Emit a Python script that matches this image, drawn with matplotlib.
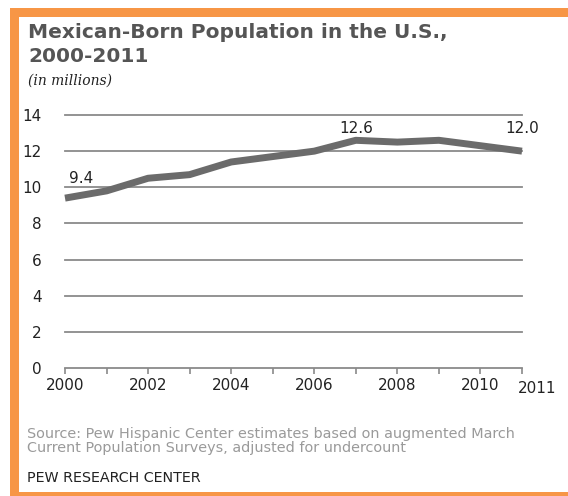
import matplotlib.pyplot as plt
from matplotlib.patches import Rectangle

# Mexican-born population in the U.S., millions
years = [2000, 2001, 2002, 2003, 2004, 2005, 2006, 2007, 2008, 2009, 2010, 2011]
population = [9.4, 9.8, 10.5, 10.7, 11.4, 11.7, 12.0, 12.6, 12.5, 12.6, 12.3, 12.0]
y_ticks = [0, 2, 4, 6, 8, 10, 12, 14]
x_labels = [2000, 2002, 2004, 2006, 2008, 2010]

W, H = 568, 496
fig = plt.figure(figsize=(W / 100, H / 100), dpi=100)
fig.patch.set_facecolor('white')

ORANGE = '#f79646'
LINE = '#6b6b6b'
GRID = '#8a8a8a'
DARK = '#222222'


def fy(px):
    # pixel row from the top -> figure fraction
    return 1 - px / H


# orange frame: top, left and bottom strips
for (x0, y0, w, h) in [(10, 8, 558, 9), (10, 8, 9, 488), (10, 492, 558, 4)]:
    fig.add_artist(Rectangle((x0 / W, fy(y0 + h)), w / W, h / H,
                             transform=fig.transFigure, facecolor=ORANGE,
                             edgecolor='none'))

ax = fig.add_axes([65 / W, fy(368), 457 / W, 253 / H])
ax.set_xlim(2000, 2011)
ax.set_ylim(0, 14)
for s in ax.spines.values():
    s.set_visible(False)

for v in y_ticks:
    ax.axhline(v, color=GRID, lw=1.3, zorder=1, clip_on=False)

ax.plot(years, population, color=LINE, lw=5, solid_capstyle='butt',
        solid_joinstyle='round', zorder=3, clip_on=False)

ax.set_yticks(y_ticks)
ax.set_yticklabels([str(v) for v in y_ticks], fontsize=11, color=DARK)
ax.tick_params(axis='y', length=0, pad=17)

ax.set_xticks(years)
ax.set_xticklabels([str(y) if y in x_labels else '' for y in years],
                   fontsize=11, color=DARK)
ax.tick_params(axis='x', length=4, width=1.2, color=GRID, pad=3)
ax.text(2011.37, -0.7, '2011', fontsize=11, color=DARK,
        ha='center', va='top')

# value labels on first, peak and last points
label_spots = {2000: (0.39, 0.83), 2007: (0.0, 0.39), 2011: (0.0, 1.0)}
for yr, (dx, dy) in label_spots.items():
    val = population[years.index(yr)]
    ax.text(yr + dx, val + dy, f'{val:.1f}', fontsize=11, color=DARK,
            ha='center', va='baseline')

fig.text(28 / W, fy(38), 'Mexican-Born Population in the U.S.,',
         fontsize=14.5, fontweight='bold', color='#555555', ha='left',
         va='baseline')
fig.text(28 / W, fy(62), '2000-2011',
         fontsize=14.5, fontweight='bold', color='#555555', ha='left',
         va='baseline')
fig.text(28 / W, fy(85), '(in millions)', fontsize=10, style='italic',
         family='DejaVu Serif', color=DARK, ha='left', va='baseline')

fig.text(27 / W, fy(438),
         'Source: Pew Hispanic Center estimates based on augmented March',
         fontsize=10.4, color='#9a9a9a', ha='left', va='baseline')
fig.text(27 / W, fy(452),
         'Current Population Surveys, adjusted for undercount',
         fontsize=10.4, color='#9a9a9a', ha='left', va='baseline')
fig.text(27 / W, fy(482), 'PEW RESEARCH CENTER', fontsize=10.3,
         color=DARK, ha='left', va='baseline')

fig.savefig('out.png', dpi=100)
